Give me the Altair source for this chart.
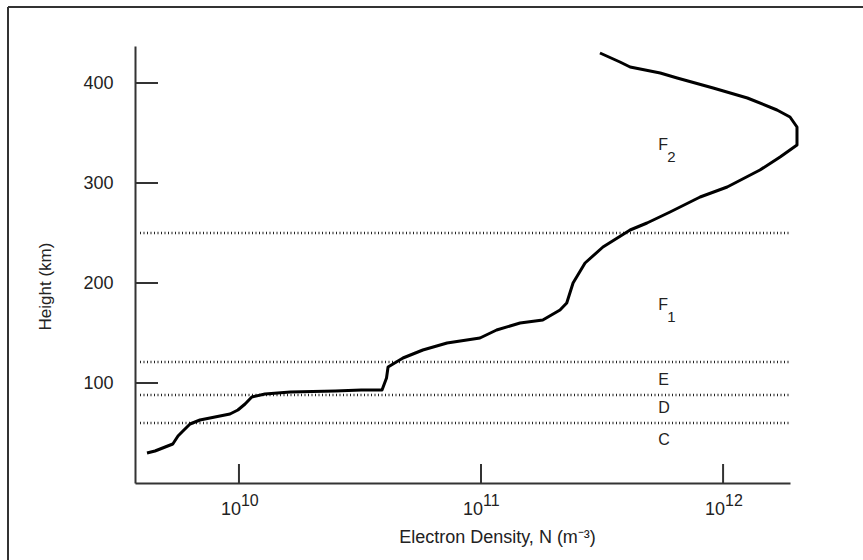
import altair as alt
import pandas as pd

# Electron density profile (m^-3) vs height (km)
density = [4.17e9, 4.5e9, 5.33e9, 5.6e9, 5.87e9, 6.28e9, 6.9e9, 7.96e9, 9.18e9, 9.9e9,
           1.06e10, 1.13e10, 1.28e10, 1.63e10, 2.5e10, 3.2e10, 3.9e10, 4.07e10, 4.13e10,
           4.76e10, 5.75e10, 7.24e10, 9.9e10, 1.16e11, 1.45e11, 1.8e11, 2.12e11, 2.26e11,
           2.4e11, 2.69e11, 3.19e11, 4.13e11, 4.85e11, 6.04e11, 8.04e11, 1.04e12, 1.42e12,
           1.72e12, 2.02e12, 2.02e12, 1.89e12, 1.67e12, 1.26e12, 9.1e11, 6.46e11, 5.5e11,
           4.13e11, 3.75e11, 3.1e11]
height = [30, 32, 39, 47, 52, 59, 63, 66, 69, 73,
          79, 86, 89, 91, 92, 93, 93, 105, 116,
          125, 133, 140, 145, 153, 160, 163, 173, 180,
          200, 220, 236, 253, 260, 271, 286, 296, 313,
          326, 338, 356, 366, 373, 385, 395, 405, 410,
          416, 421, 430]

boundary_heights = [60, 88, 121, 250]
region_names = ["F", "F", "E", "D", "C"]
region_subs = ["2", "1", "", "", ""]
region_heights = [338, 178, 103, 75, 43]
region_density = [5.4e11] * 5

x_ticks = [1e10, 1e11, 1e12]
x_exps = ["10", "11", "12"]
y_ticks = [100, 200, 300, 400]

W, H = 655, 437
FONT = "Liberation Sans"
INK = "#222222"
AX = "#333333"

xs = alt.Scale(type="log", domain=[3.72e9, 1.89e12], nice=False)
ys = alt.Scale(domain=[0, 437], nice=False)

profile = pd.DataFrame({"i": list(range(len(density))), "N": density, "h": height})
bounds = pd.DataFrame({"h": boundary_heights})
regions = pd.DataFrame({"name": region_names, "sub": region_subs,
                        "h": region_heights, "N": region_density})
xt = pd.DataFrame({"N": x_ticks, "e": x_exps})
yt = pd.DataFrame({"h": y_ticks})
one = pd.DataFrame({"a": [0]})

line = alt.Chart(profile).mark_line(color="black", strokeWidth=3, strokeJoin="round").encode(
    x=alt.X("N:Q", scale=xs, axis=alt.Axis(
        labels=False, ticks=False, grid=False, domainColor=AX, domainWidth=2,
        title="Electron Density, N (m⁻³)", titleFont=FONT, titleFontSize=18,
        titleFontWeight="normal", titleColor=INK, titleX=362, titleY=59,
        titleBaseline="alphabetic", titleAlign="center")),
    y=alt.Y("h:Q", scale=ys, axis=alt.Axis(
        values=y_ticks, ticks=False, grid=False, domainColor=AX, domainWidth=2,
        labelFont=FONT, labelFontSize=18, labelColor=INK, labelPadding=22,
        title="Height (km)", titleFont=FONT, titleFontSize=17, titleFontWeight="normal",
        titleColor=INK, titleX=-90, titleY=240, titleBaseline="middle",
        titleAlign="center", titleAngle=-90)),
    order="i:Q",
)

dotted = alt.Chart(bounds).mark_rule(color="#222222", strokeWidth=2.5, strokeDash=[1, 2.5]).encode(
    y=alt.Y("h:Q", scale=ys), x=alt.value(5), x2=alt.value(W))

ytick = alt.Chart(yt).mark_rule(color=AX, strokeWidth=2).encode(
    y=alt.Y("h:Q", scale=ys), x=alt.value(0), x2=alt.value(23))
xtick = alt.Chart(xt).mark_rule(color=AX, strokeWidth=2).encode(
    x=alt.X("N:Q", scale=xs), y=alt.value(H), y2=alt.value(H - 19))

xbase = alt.Chart(xt).mark_text(font=FONT, fontSize=18, color=INK, align="right",
                                baseline="alphabetic", dx=2).encode(
    x=alt.X("N:Q", scale=xs), y=alt.value(H + 32), text=alt.value("10"))
xexp = alt.Chart(xt).mark_text(font=FONT, fontSize=16, color=INK, align="left",
                               baseline="alphabetic", dx=2).encode(
    x=alt.X("N:Q", scale=xs), y=alt.value(H + 23), text="e:N")

rname = alt.Chart(regions).mark_text(font=FONT, fontSize=16, color=INK, align="left",
                                     baseline="middle").encode(
    x=alt.X("N:Q", scale=xs), y=alt.Y("h:Q", scale=ys), text="name:N")
rsub = alt.Chart(regions).transform_filter("datum.sub != ''").mark_text(
    font=FONT, fontSize=15, color=INK, align="left", baseline="middle", dx=9, dy=12).encode(
    x=alt.X("N:Q", scale=xs), y=alt.Y("h:Q", scale=ys), text="sub:N")

border_left = alt.Chart(one).mark_rule(color=AX, strokeWidth=2).encode(
    x=alt.value(-127), y=alt.value(-39), y2=alt.value(600))
border_top = alt.Chart(one).mark_rule(color=AX, strokeWidth=2).encode(
    y=alt.value(-39), x=alt.value(-127), x2=alt.value(800))

chart = alt.layer(dotted, line, ytick, xtick, xbase, xexp, rname, rsub,
                  border_left, border_top).properties(
    width=W, height=H,
    autosize=alt.AutoSizeParams(type="none"),
    padding={"left": 135, "top": 46, "right": 73, "bottom": 77},
    background="white",
).configure_view(stroke=None)

chart.save("out.html", embed_options={"renderer": "svg", "actions": False})
